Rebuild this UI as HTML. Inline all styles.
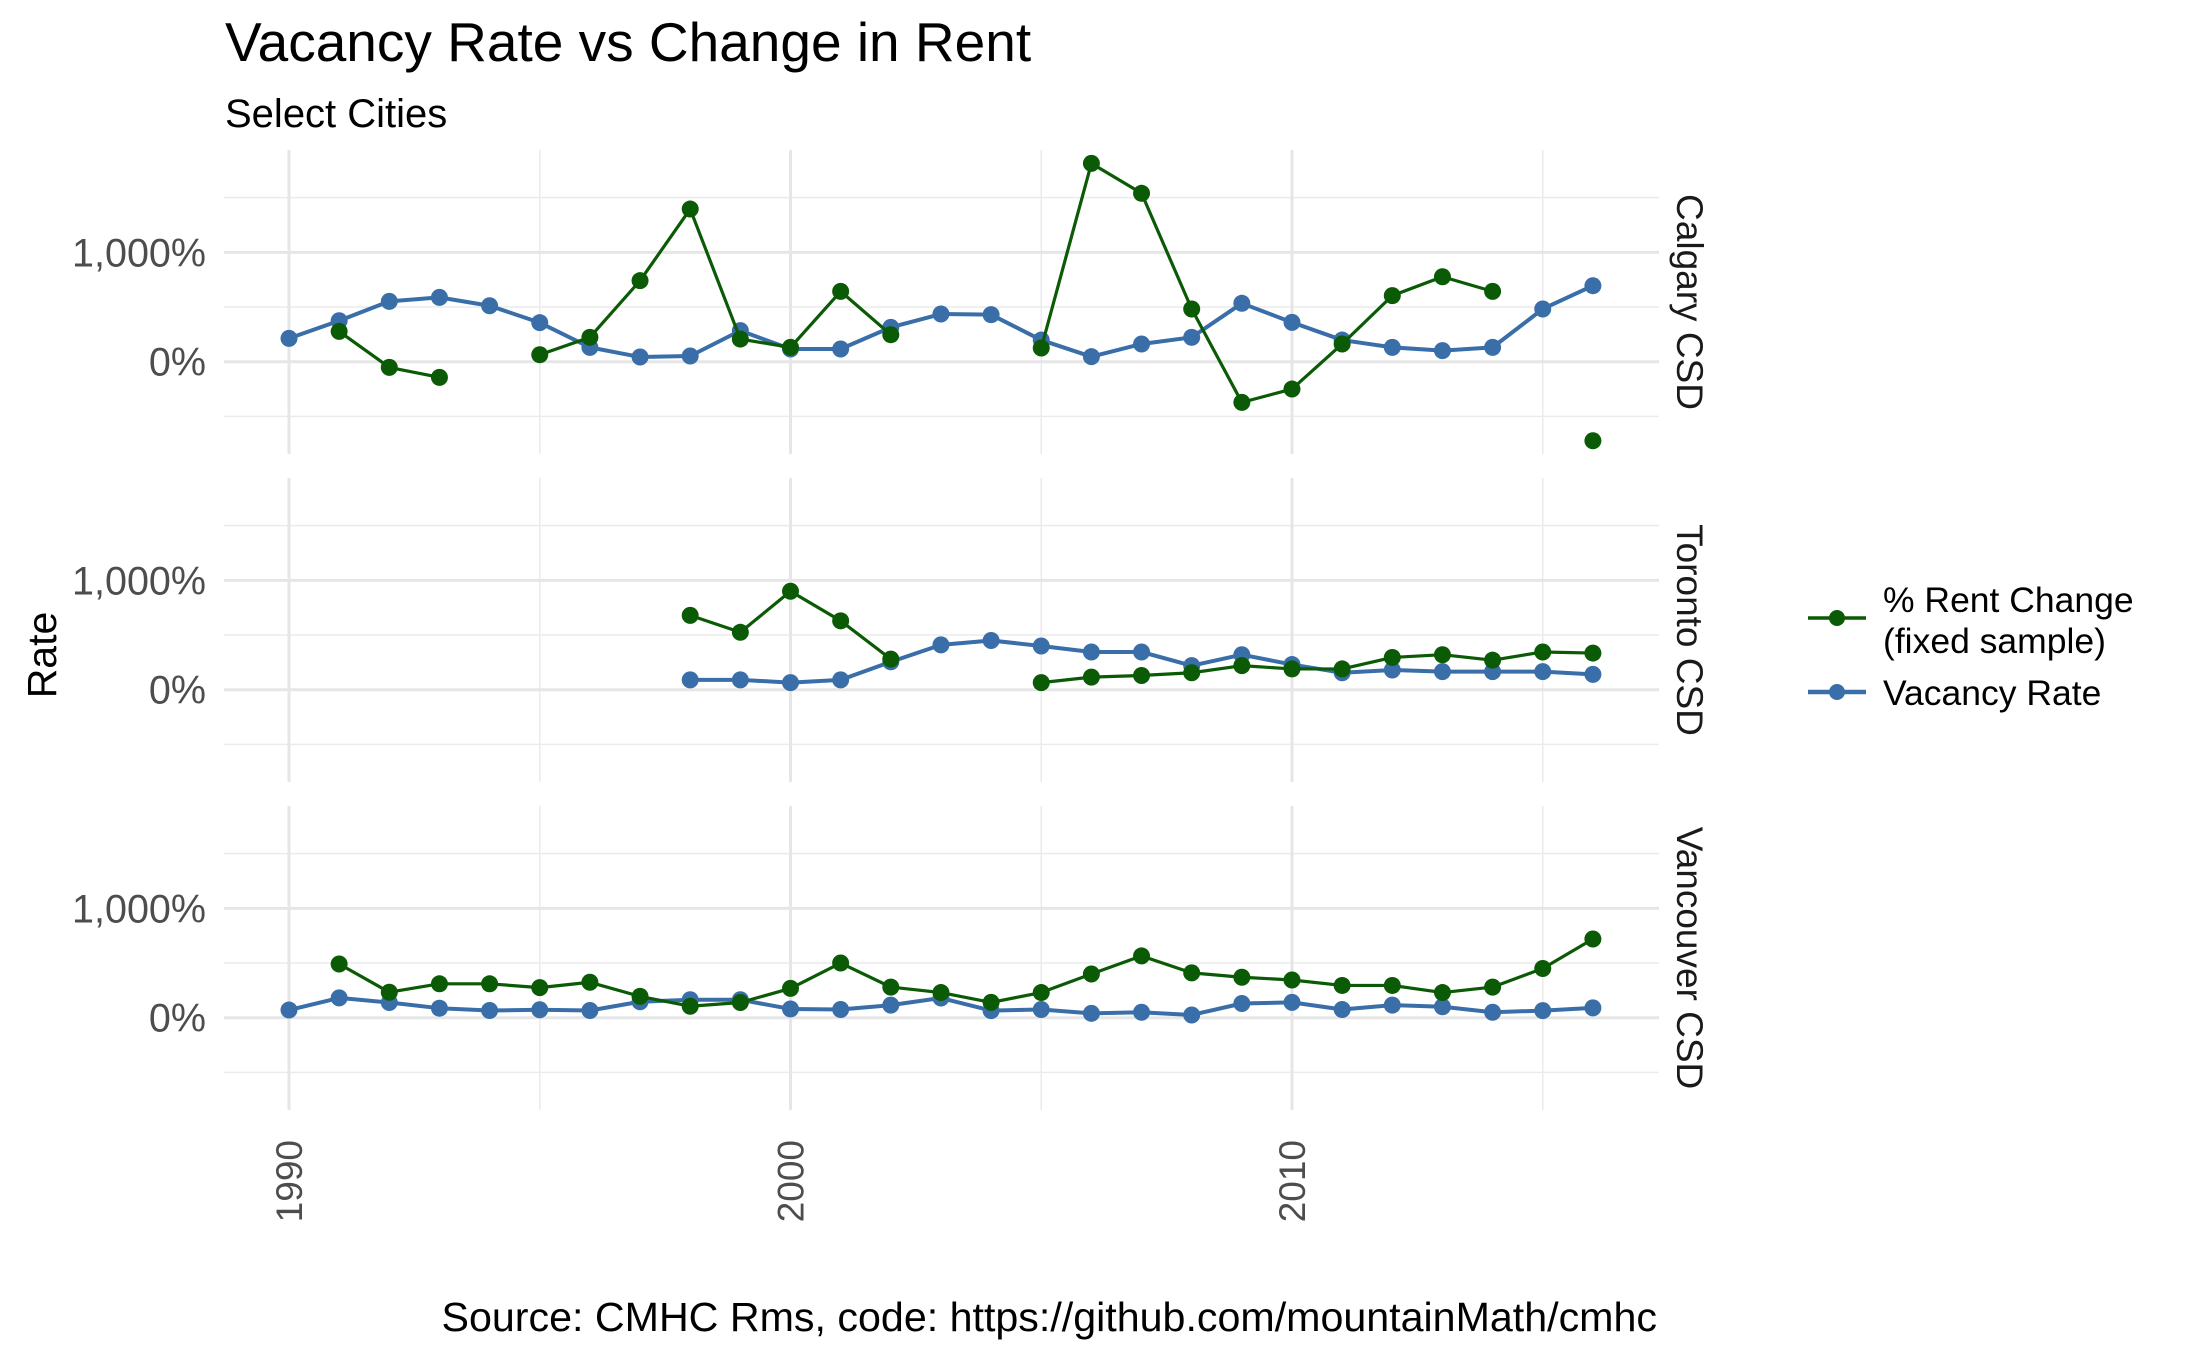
<!DOCTYPE html>
<html><head><meta charset="utf-8"><style>
html,body{margin:0;padding:0;background:#fff;}
svg{display:block;font-family:"Liberation Sans",Arial,sans-serif;}
</style></head><body>
<svg id="chart" width="2187" height="1351" viewBox="0 0 2187 1351" xmlns="http://www.w3.org/2000/svg">
<text x="225" y="61" font-size="55" fill="#000">Vacancy Rate vs Change in Rent</text>
<text x="225" y="127" font-size="40" fill="#000">Select Cities</text>
<text transform="translate(56,655) rotate(-90)" text-anchor="middle" font-size="41" fill="#000">Rate</text>
<text x="1657" y="1331" text-anchor="end" font-size="41.2" fill="#000">Source: CMHC Rms, code: https://github.com/mountainMath/cmhc</text>
<g id="panels"></g>
<g>
<line x1="1808" x2="1866" y1="618" y2="618" stroke="#0b5a05" stroke-width="3.5"/>
<circle cx="1837" cy="618" r="8" fill="#0b5a05"/>
<text x="1883" y="612" font-size="35.5" fill="#000">% Rent Change</text>
<text x="1883" y="653" font-size="35.5" fill="#000">(fixed sample)</text>
<line x1="1808" x2="1866" y1="692" y2="692" stroke="#3a6ea8" stroke-width="4.5"/>
<circle cx="1837" cy="692" r="8" fill="#3a6ea8"/>
<text x="1883" y="705" font-size="35.5" fill="#000">Vacancy Rate</text>
</g>
</svg>
<script>
const years = [1990,1991,1992,1993,1994,1995,1996,1997,1998,1999,2000,2001,2002,2003,2004,2005,2006,2007,2008,2009,2010,2011,2012,2013,2014,2015,2016];
const cities = ["Calgary CSD","Toronto CSD","Vancouver CSD"];
const calgaryVacancy = [213,375,552,588,512,357,131,43,52,284,116,116,314,436,430,198,46,162,223,534,360,198,131,101,131,482,695];
const calgaryRent = [null,277,-52,-143,null,64,223,741,1396,207,131,643,247,null,null,125,1814,1540,482,-372,-250,162,604,777,643,null,-723];
const torontoVacancy = [null,null,null,null,null,null,null,null,90,90,65,90,255,410,450,400,345,345,220,320,230,155,180,165,165,165,140];
const torontoRent = [null,null,null,null,null,null,null,null,680,525,900,630,280,null,null,65,115,130,155,220,190,190,295,320,270,345,335];
const vancouverVacancy = [70,181,139,87,66,73,66,146,164,164,80,75,115,180,65,75,40,50,25,130,140,75,115,100,50,65,90];
const vancouverRent = [null,491,233,310,310,275,324,195,105,139,268,500,280,230,140,230,400,565,410,370,345,295,295,230,280,450,720];
const yTicks = [0,1000];
const yTickLabels = ["0%","1,000%"];
const yMinor = [-500,500,1500];
const xTicks = [1990,2000,2010];
const xMinor = [1995,2005,2015];

const vac = [calgaryVacancy,torontoVacancy,vancouverVacancy];
const rent = [calgaryRent,torontoRent,vancouverRent];
const NS="http://www.w3.org/2000/svg";
const PL=224, PR=1659, PH=304, PT=[150,478,806];
const YMIN=-844, YMAX=1936;
function xs(y){return 289+(y-1990)*50.15;}
function ys(p,v){return PT[p]+PH*(YMAX-v)/(YMAX-YMIN);}
function mk(tag,attrs,parent){const e=document.createElementNS(NS,tag);for(const k in attrs)e.setAttribute(k,attrs[k]);parent.appendChild(e);return e;}
const root=document.getElementById('panels');
cities.forEach((c,p)=>{
  const g=mk('g',{},root);
  
  
  yMinor.forEach(v=>{const l=mk('line',{x1:PL,x2:PR,y1:ys(p,v),y2:ys(p,v),stroke:'#ebebeb','stroke-width':1.5},g);
    
    });
  xMinor.forEach(v=>{const l=mk('line',{x1:xs(v),x2:xs(v),y1:PT[p],y2:PT[p]+PH,stroke:'#ebebeb','stroke-width':1.5},g);
    
    });
  yTicks.forEach((v,i)=>{const l=mk('line',{x1:PL,x2:PR,y1:ys(p,v),y2:ys(p,v),stroke:'#e6e6e6','stroke-width':3},g);
    
    
    const t=mk('text',{x:206,y:ys(p,v)+14,'text-anchor':'end','font-size':39.5,fill:'#4d4d4d'},g);
    t.textContent=yTickLabels[i];
    
    });
  xTicks.forEach(v=>{const l=mk('line',{x1:xs(v),x2:xs(v),y1:PT[p],y2:PT[p]+PH,stroke:'#e6e6e6','stroke-width':3},g);
    
    });
  const st=mk('text',{transform:`translate(1677,${PT[p]+PH/2}) rotate(90)`,'text-anchor':'middle','font-size':37,fill:'#1a1a1a'},g);
  st.textContent=c;
  
  
  [[vac[p],'#3a6ea8',4,'vacancy'],[rent[p],'#0b5a05',3.2,'rent-change']].forEach(([arr,col,w,nm])=>{
    let seg=[];const segs=[];
    arr.forEach((v,i)=>{if(v===null){if(seg.length)segs.push(seg);seg=[];}else seg.push([xs(years[i]),ys(p,v)]);});
    if(seg.length)segs.push(seg);
    segs.forEach(s=>{if(s.length>1){const pl=mk('polyline',{points:s.map(q=>q.join(',')).join(' '),fill:'none',stroke:col,'stroke-width':w,'stroke-linejoin':'round'},g);
      
      }});
    arr.forEach((v,i)=>{if(v===null)return;const ci=mk('circle',{cx:xs(years[i]),cy:ys(p,v),r:8.5,fill:col},g);
      
      });
  });
});
xTicks.forEach(v=>{const t=mk('text',{transform:`translate(${xs(v)+13},1140) rotate(-90)`,'text-anchor':'end','font-size':37,fill:'#4d4d4d'},root);
  t.textContent=String(v);
  
  });
</script>
</body></html>
